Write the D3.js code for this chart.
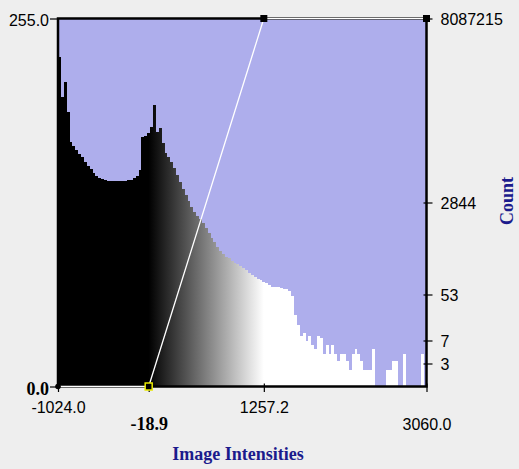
<!DOCTYPE html>
<html>
<head>
<meta charset="utf-8">
<script src="https://cdn.jsdelivr.net/npm/d3@7"></script>
<style>
  body { margin: 0; background: #eeeeee; }
</style>
</head>
<body>
<div id="chart"></div>
<script>
// histogram of image intensities with a window/level transfer function on top

const intensityDomain = [-1024.0, 3060.0];
const levelDomain = [0, 255];
const countMax = 8087215;

// counts per bin (128 equal bins over the intensity domain)
const counts = [
  1550000, 275000, 520000, 144000, 39000, 32500, 27400, 23000, 19900, 16500,
  13900, 11900, 10300, 9040, 8300, 7740, 7420, 7350, 7250, 7200,
  7200, 7200, 7250, 7300, 7400, 7560, 8060, 9040, 11500, 48700,
  50100, 57800, 75000, 191000, 60700, 69800, 36500, 23700, 19900, 16500,
  12400, 9300, 6980, 5030, 3920, 3020, 2370, 1880, 1580, 1410,
  1190, 930, 750, 615, 510, 420, 355, 307, 274, 255,
  230, 211, 197, 184, 170, 155, 138, 122, 112, 106,
  100, 93, 87, 81, 75, 73, 73, 71, 69, 67,
  61, 49, 22, 14, 9, 10, 7, 9, 6, 5,
  9, 8, 4, 6, 4, 6, 4, 3, 4, 4,
  3, 2, 4, 5, 4, 3, 2, 2, 2, 5,
  0, 0, 0, 0, 2, 2, 3, 3, 0, 0,
  4, 0, 0, 0, 0, 0, 4, 0
];

// transfer function control points [intensity, output level]
const tfPoints = [[-1024.0, 0], [-18.9, 0], [1257.2, 255], [3060.0, 255]];

const xTicks = [-1024.0, -18.9, 1257.2, 3060.0];
const levelTicks = [0, 255];
const countTickFractions = [1, 1/2, 1/4, 1/8, 1/16];

const margin = { top: 18.5, right: 92.5, bottom: 82.5, left: 58 };
const width = 519 - margin.left - margin.right;
const height = 469 - margin.top - margin.bottom;

const navy = "#1b1b8c";
const sansFont = "'Liberation Sans', Arial, sans-serif";
const serifFont = "'Liberation Serif', 'Times New Roman', serif";

const svg = d3.select("#chart")
  .append("svg")
    .attr("width", 519)
    .attr("height", 469);

const g = svg.append("g")
  .attr("transform", `translate(${margin.left},${margin.top})`);

const x = d3.scaleLinear().domain(intensityDomain).range([0, width]);
const yLevel = d3.scaleLinear().domain(levelDomain).range([height, 0]);
const yCount = d3.scaleLog().domain([1, countMax]).range([height, 0]);

const binWidth = (intensityDomain[1] - intensityDomain[0]) / counts.length;
const bins = counts.map((c, i) => ({
  x0: intensityDomain[0] + i * binWidth,
  x1: intensityDomain[0] + (i + 1) * binWidth,
  count: c
}));

// gradient follows the transfer function: black below the low point, white above the high point
const grad = svg.append("defs").append("linearGradient")
  .attr("id", "tf")
  .attr("gradientUnits", "userSpaceOnUse")
  .attr("x1", x(tfPoints[1][0])).attr("x2", x(tfPoints[2][0]))
  .attr("y1", 0).attr("y2", 0);
grad.append("stop").attr("offset", 0).attr("stop-color", "#000");
grad.append("stop").attr("offset", 1).attr("stop-color", "#fff");

g.append("rect")
  .attr("width", width)
  .attr("height", height)
  .attr("fill", "#aeaeec");

g.append("g")
    .attr("id", "bars")
  .selectAll("rect")
  .data(bins.filter(d => d.count > 1))
  .join("rect")
    .attr("x", d => x(d.x0))
    .attr("width", d => x(d.x1) - x(d.x0))
    .attr("y", d => yCount(d.count))
    .attr("height", d => height - yCount(d.count))
    .attr("fill", "url(#tf)")
    .attr("shape-rendering", "crispEdges");

// frame
g.append("rect")
  .attr("width", width)
  .attr("height", height)
  .attr("fill", "none")
  .attr("stroke", "#000")
  .attr("stroke-width", 2.5);

// left axis: output level
const leftAxis = g.append("g")
  .call(d3.axisLeft(yLevel).tickValues(levelTicks).tickFormat(d => d.toFixed(1)).tickSize(8).tickPadding(1));
leftAxis.select(".domain").remove();
leftAxis.selectAll("line").attr("stroke", "#000").attr("stroke-width", 1.2);
leftAxis.selectAll("text")
  .attr("fill", "#000")
  .attr("dy", "0.42em")
  .attr("font-family", d => d === 0 ? serifFont : sansFont)
  .attr("font-weight", d => d === 0 ? "bold" : "normal")
  .attr("font-size", d => d === 0 ? 18 : 16);

// right axis: count (log)
const rightAxis = g.append("g")
  .attr("transform", `translate(${width},0)`)
  .call(d3.axisRight(yCount)
    .tickValues(countTickFractions.map(f => Math.pow(countMax, f)))
    .tickFormat(d3.format(".0f"))
    .tickSize(6).tickPadding(8));
rightAxis.select(".domain").remove();
rightAxis.selectAll("line").attr("x1", -3).attr("stroke", "#000").attr("stroke-width", 1.2);
rightAxis.selectAll("text")
  .attr("fill", "#000")
  .attr("dy", "0.4em")
  .attr("font-family", sansFont)
  .attr("font-size", 16);

// bottom axis: image intensity, labels staggered on two rows
const bottomAxis = g.append("g")
  .attr("transform", `translate(0,${height})`)
  .call(d3.axisBottom(x).tickValues(xTicks).tickFormat(d => d.toFixed(1)).tickSize(5.5).tickPadding(0));
bottomAxis.select(".domain").remove();
bottomAxis.selectAll("line").attr("y1", -3).attr("stroke", "#000").attr("stroke-width", 1.2);
bottomAxis.selectAll("text")
  .attr("fill", "#000")
  .attr("dy", 0)
  .attr("y", (d, i) => i % 2 === 0 ? 26 : 43.5)
  .attr("font-family", d => d === tfPoints[1][0] ? serifFont : sansFont)
  .attr("font-weight", d => d === tfPoints[1][0] ? "bold" : "normal")
  .attr("font-size", d => d === tfPoints[1][0] ? 18 : 16);

// transfer function line
const tfLine = d3.line()
  .x(d => x(d[0]))
  .y(d => yLevel(d[1]));

g.append("path")
  .datum(tfPoints)
  .attr("d", tfLine)
  .attr("fill", "none")
  .attr("stroke", "#ffffff")
  .attr("stroke-width", 1.3);

// control point handles
g.append("circle")
  .attr("cx", x(tfPoints[0][0]))
  .attr("cy", yLevel(tfPoints[0][1]))
  .attr("r", 2.8)
  .attr("fill", "#000");

g.append("rect")
  .attr("x", x(tfPoints[1][0]) - 3.5)
  .attr("y", yLevel(tfPoints[1][1]) - 3.5)
  .attr("width", 7).attr("height", 7)
  .attr("fill", "#000")
  .attr("stroke", "#e8e800")
  .attr("stroke-width", 1.5);

g.selectAll(".handle")
  .data(tfPoints.slice(2))
  .join("rect")
    .attr("class", "handle")
    .attr("x", d => x(d[0]) - 3.5)
    .attr("y", d => yLevel(d[1]) - 3.5)
    .attr("width", 7).attr("height", 7)
    .attr("fill", "#000");

// axis titles
svg.append("text")
  .attr("x", 238)
  .attr("y", 460)
  .attr("text-anchor", "middle")
  .attr("font-family", serifFont)
  .attr("font-weight", "bold")
  .attr("font-size", 18)
  .attr("fill", navy)
  .text("Image Intensities");

svg.append("text")
  .attr("transform", "translate(513,201) rotate(-90)")
  .attr("text-anchor", "middle")
  .attr("font-family", serifFont)
  .attr("font-weight", "bold")
  .attr("font-size", 18)
  .attr("fill", navy)
  .text("Count");
</script>
</body>
</html>
